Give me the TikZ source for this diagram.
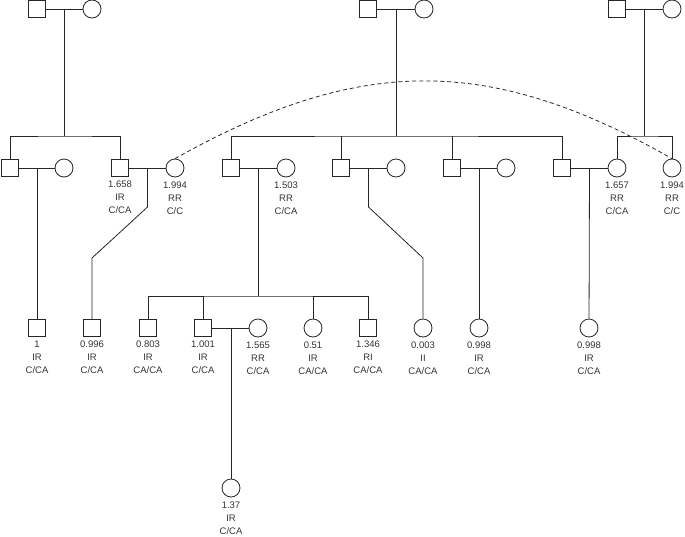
\documentclass[tikz,border=0pt]{standalone}
\usepackage{fontspec}
\setmainfont{Liberation Sans}
\usetikzlibrary{positioning}

\begin{document}
\begin{tikzpicture}[x=1pt,y=-1pt,line width=0.8pt]
\tikzstyle{every node}+=[inner sep=0pt]
\tikzstyle{male}=[draw=black!85,rectangle,minimum size=17pt]
\tikzstyle{female}=[draw=black!85,circle,minimum size=18pt]
\tikzstyle{info}=[align=center,text=black!80,font=\fontsize{9.5}{13}\selectfont]
\useasboundingbox (0,0) rectangle (685,536);
\node [male] (g1m) at (37,9) {};
\node [female] (g1f) at (92,9) {};
\node [male] (g2m) at (368,9) {};
\node [female] (g2f) at (424,9) {};
\node [male] (g3m) at (617,9) {};
\node [female] (g3f) at (672,9) {};
\node [male] (a1) at (10,168) {};
\node [female] (a1w) at (64,168) {};
\node [male] (a2) at (120,168) {};
\node [female] (a2w) at (175,168) {};
\node [male] (b1) at (231,168) {};
\node [female] (b1w) at (286,168) {};
\node [male] (b2) at (341,168) {};
\node [female] (b2w) at (396,168) {};
\node [male] (b3) at (452,168) {};
\node [female] (b3w) at (506,168) {};
\node [male] (b4) at (562,168) {};
\node [female] (c1) at (617,168) {};
\node [female] (c2) at (672,168) {};
\node [male] (d1) at (37,328) {};
\node [male] (d2) at (92,328) {};
\node [male] (e1) at (148,328) {};
\node [male] (e2) at (203,328) {};
\node [female] (e2w) at (258,328) {};
\node [female] (e3) at (313,328) {};
\node [male] (e4) at (368,328) {};
\node [female] (f1) at (423,328) {};
\node [female] (f2) at (479,328) {};
\node [female] (f3) at (589,328) {};
\node [female] (h1) at (231,488) {};
\node [info,below=4pt of a2] (ta2) {1.658\\IR\\C/CA};
\node [info,below=4pt of a2w] (ta2w) {1.994\\RR\\C/C};
\node [info,below=4pt of b1w] (tb1w) {1.503\\RR\\C/CA};
\node [info,below=4pt of c1] (tc1) {1.657\\RR\\C/CA};
\node [info,below=4pt of c2] (tc2) {1.994\\RR\\C/C};
\node [info,below=4pt of d1] (td1) {1\\IR\\C/CA};
\node [info,below=4pt of d2] (td2) {0.996\\IR\\C/CA};
\node [info,below=4pt of e1] (te1) {0.803\\IR\\CA/CA};
\node [info,below=4pt of e2] (te2) {1.001\\IR\\C/CA};
\node [info,below=4pt of e2w] (te2w) {1.565\\RR\\C/CA};
\node [info,below=4pt of e3] (te3) {0.51\\IR\\CA/CA};
\node [info,below=4pt of e4] (te4) {1.346\\RI\\CA/CA};
\node [info,below=4pt of f1] (tf1) {0.003\\II\\CA/CA};
\node [info,below=4pt of f2] (tf2) {0.998\\IR\\C/CA};
\node [info,below=4pt of f3] (tf3) {0.998\\IR\\C/CA};
\node [info,below=4pt of h1] (th1) {1.37\\IR\\C/CA};
\coordinate (m1) at (64.5,9);
\coordinate (m2) at (396,9);
\coordinate (m3) at (644.5,9);
\coordinate (s1) at (64.5,136);
\coordinate (s2) at (396,136);
\coordinate (s3) at (644.5,136);
\coordinate (m4) at (37,168);
\coordinate (m5) at (147.5,168);
\coordinate (m6) at (258.5,168);
\coordinate (m7) at (368.5,168);
\coordinate (m8) at (479,168);
\coordinate (m9) at (589.5,168);
\coordinate (s6) at (258.5,296);
\coordinate (k1) at (147.5,207);
\coordinate (k2) at (92,258);
\coordinate (k3) at (368.5,207);
\coordinate (k4) at (423,258);
\coordinate (m10) at (231,328);
\begin{scope}[draw=black!85]
\draw (g1m) -- (g1f);
\draw (g2m) -- (g2f);
\draw (g3m) -- (g3f);
\draw (m1) -- (s1);
\draw (m2) -- (s2);
\draw (m3) -- (s3);
\draw (a1) |- (s1) -| (a2);
\draw (b1) |- (s2) -| (b4);
\draw (b2) -- (b2 |- s2);
\draw (b3) -- (b3 |- s2);
\draw (c1) |- (s3) -| (c2);
\draw (a1) -- (a1w);
\draw (a2) -- (a2w);
\draw (b1) -- (b1w);
\draw (b2) -- (b2w);
\draw (b3) -- (b3w);
\draw (b4) -- (c1);
\draw (m4) -- (d1);
\draw (m5) -- (k1) -- (k2) -- (d2);
\draw (m6) -- (s6);
\draw (e1) |- (s6) -| (e4);
\draw (e2) -- (e2 |- s6);
\draw (e3) -- (e3 |- s6);
\draw (m7) -- (k3) -- (k4) -- (f1);
\draw (m8) -- (f2);
\draw (m9) -- (f3);
\draw (e2) -- (e2w);
\draw (m10) -- (h1);
\draw [dash pattern=on 4pt off 3pt] (a2w.north) .. controls (360,55) and (490,55) .. (c2.north);
\end{scope}
\end{tikzpicture}
\end{document}
